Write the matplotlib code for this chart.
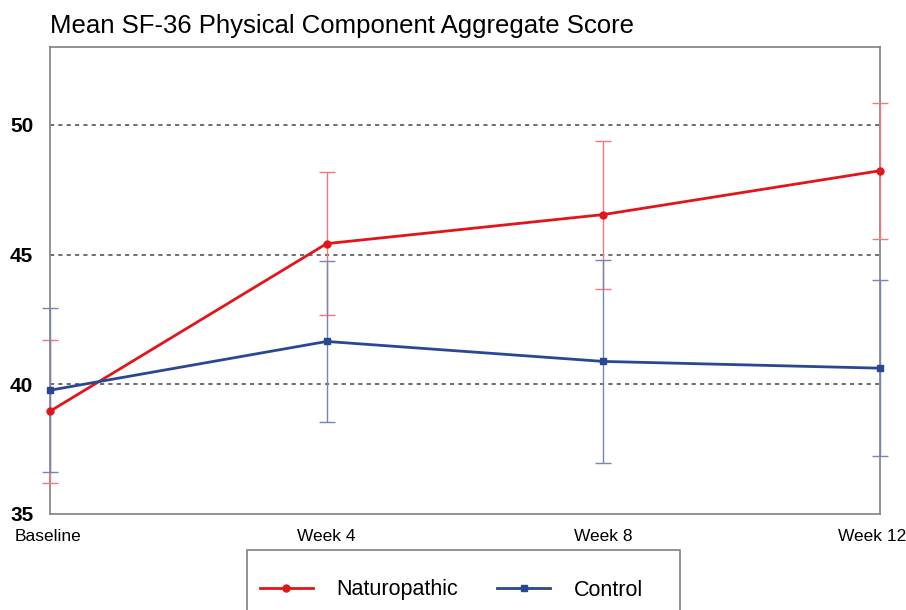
import matplotlib
matplotlib.use('Agg')
from matplotlib import pyplot as plt
from matplotlib.patches import Rectangle
from matplotlib.transforms import ScaledTranslation

plt.rcParams['font.family'] = ['Liberation Sans', 'DejaVu Sans']

# weeks and tick labels
weeks = [0, 4, 8, 12]
week_labels = ['Baseline', 'Week 4', 'Week 8', 'Week 12']

# mean scores and error (half-width)
naturo_mean = [38.96, 45.42, 46.54, 48.23]
naturo_err = [2.75, 2.75, 2.85, 2.62]
control_mean = [39.77, 41.65, 40.88, 40.62]
control_err = [3.15, 3.10, 3.90, 3.40]

red = '#e3141b'
blue = '#2a4793'

fig = plt.figure(figsize=(9.06, 6.10), dpi=100)
ax = fig.add_axes([0.0552, 0.1574, 0.9161, 0.7656])

# error bars first (thin, lighter), then the lines on top
ax.errorbar(weeks, naturo_mean, yerr=naturo_err, fmt='none', ecolor='#f07a7e',
            elinewidth=1.0, capsize=5.5, capthick=1.0, zorder=3, clip_on=False)
ax.errorbar(weeks, control_mean, yerr=control_err, fmt='none', ecolor='#7685b6',
            elinewidth=1.0, capsize=5.5, capthick=1.0, zorder=3, clip_on=False)

ax.plot(weeks, naturo_mean, color=red, lw=2, marker='o', ms=5,
        label='Naturopathic', zorder=5, clip_on=False)
ax.plot(weeks, control_mean, color=blue, lw=2, marker='s', ms=5,
        label='Control', zorder=5, clip_on=False)

ax.set_xlim(0, 12)
ax.set_ylim(35, 53)
ax.set_yticks([35, 40, 45, 50])
ax.set_xticks(weeks)
ax.set_xticklabels(week_labels, fontsize=12.5)
ax.set_yticklabels(['35', '40', '45', '50'], fontsize=15, fontweight='bold')
ax.tick_params(length=0)
ax.tick_params(axis='y', pad=12)
ax.tick_params(axis='x', pad=11)

# first and last labels shift a little so they stay inside the picture
first = ax.get_xticklabels()[0]
first.set_transform(first.get_transform() + ScaledTranslation(-2 / 100, 0, fig.dpi_scale_trans))
last = ax.get_xticklabels()[-1]
last.set_transform(last.get_transform() + ScaledTranslation(-8 / 100, 0, fig.dpi_scale_trans))

for y in [40, 45, 50]:
    ax.axhline(y, color='#555555', lw=1.2, ls=(0, (2.5, 2.5)), zorder=1)

for s in ax.spines.values():
    s.set_color('#808080')
    s.set_linewidth(1.2)

ax.set_title('Mean SF-36 Physical Component Aggregate Score', loc='left',
             fontsize=18.5, pad=10, x=0.0)

# legend box, running off the bottom of the picture
fig.patches.append(Rectangle((247 / 906, -0.05), (680 - 247) / 906, 0.05 + 1 - 550 / 610,
                             transform=fig.transFigure, fill=False,
                             edgecolor='#808080', lw=1.2))
fig.legend(loc='center left', bbox_to_anchor=(260 / 906, 1 - 590 / 610),
           ncol=2, fontsize=15.5, frameon=False, handlelength=2.46,
           handletextpad=1.1, columnspacing=1.8, borderpad=0, borderaxespad=0)

fig.savefig('out.png', dpi=100)
